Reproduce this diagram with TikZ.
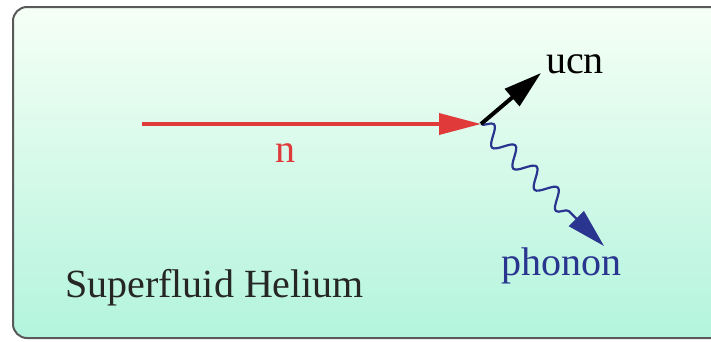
\documentclass[tikz,border=0pt]{standalone}
\usepackage{fontspec}
\setmainfont{Liberation Serif}
\usetikzlibrary{arrows.meta,decorations.pathmorphing}
\definecolor{nred}{HTML}{E03A3A}
\definecolor{phblue}{HTML}{2A3590}
\definecolor{hetop}{HTML}{F6FFF6}
\definecolor{hebot}{HTML}{B3F4DD}
\def\lbl{\fontsize{40}{48}\selectfont}

\begin{document}
\begin{tikzpicture}[x=1pt,y=-1pt]
	\useasboundingbox (0,0) rectangle (711,341);
	\clip (0,0) rectangle (711,341);
	% helium bath, open on the right
	\shade[top color=hetop,bottom color=hebot,rounded corners=14pt] (760,7) -- (13,7) -- (13,338) -- (760,338) -- cycle;
	\draw[line width=2pt,draw=black!65,rounded corners=14pt] (760,7) -- (13,7) -- (13,338) -- (760,338);
	\coordinate (nstart) at (142,124);
	\coordinate (vtx) at (481,124);
	\coordinate (ucnend) at (541,73);
	\coordinate (phend) at (604,246);
	% incoming neutron
	\draw[nred,line width=3.5pt,-{Triangle[length=42pt,width=21pt]}] (nstart) -- (vtx);
	% phonon
	\draw[phblue,line width=2.2pt,-{Triangle[length=39pt,width=21pt]},
	  decorate,decoration={snake,amplitude=9pt,segment length=30pt,post length=38pt}] (vtx) -- (phend);
	% ucn
	\draw[black,line width=4pt,-{Triangle[length=38pt,width=22pt]}] (vtx) -- (ucnend);
	\node[text=nred,font=\lbl] (nlbl) at (285,153) {n};
	\node[text=black,font=\lbl] (ucnlbl) at (575,64) {ucn};
	\node[text=phblue,font=\lbl] (phlbl) at (561,266) {phonon};
	\node[text=black!85,font=\lbl,anchor=base west,inner sep=0pt] (helbl) at (65,297) {Superfluid Helium};
\end{tikzpicture}
\end{document}
